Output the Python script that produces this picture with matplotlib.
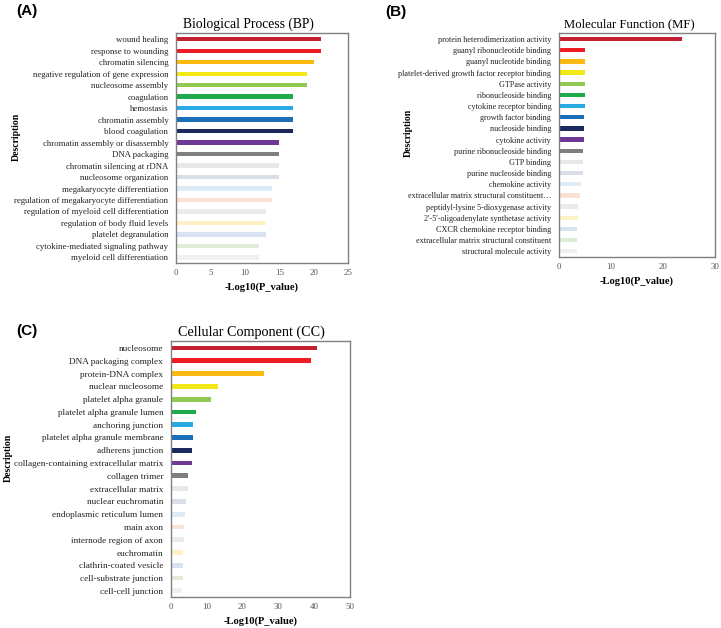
import matplotlib

matplotlib.use("Agg")
import matplotlib.pyplot as plt

plt.rcParams["font.family"] = "serif"
plt.rcParams["font.serif"] = ["Liberation Serif", "DejaVu Serif"]

BP_TERMS = [
    "wound healing",
    "response to wounding",
    "chromatin silencing",
    "negative regulation of gene expression",
    "nucleosome assembly",
    "coagulation",
    "hemostasis",
    "chromatin assembly",
    "blood coagulation",
    "chromatin assembly or disassembly",
    "DNA packaging",
    "chromatin silencing at rDNA",
    "nucleosome organization",
    "megakaryocyte differentiation",
    "regulation of megakaryocyte differentiation",
    "regulation of myeloid cell differentiation",
    "regulation of body fluid levels",
    "platelet degranulation",
    "cytokine-mediated signaling pathway",
    "myeloid cell differentiation",
]
BP_VALUES = [21, 21, 20, 19, 19, 17, 17, 17, 17, 15, 15, 15, 15, 14, 14, 13, 13, 13, 12, 12]

MF_TERMS = [
    "protein heterodimerization activity",
    "guanyl ribonucleotide binding",
    "guanyl nucleotide binding",
    "platelet-derived growth factor receptor binding",
    "GTPase activity",
    "ribonucleoside binding",
    "cytokine receptor binding",
    "growth factor binding",
    "nucleoside binding",
    "cytokine activity",
    "purine ribonucleoside binding",
    "GTP binding",
    "purine nucleoside binding",
    "chemokine activity",
    "extracellular matrix structural constituent…",
    "peptidyl-lysine 5-dioxygenase activity",
    "2'-5'-oligoadenylate synthetase activity",
    "CXCR chemokine receptor binding",
    "extracellular matrix structural constituent",
    "structural molecule activity",
]
MF_VALUES = [23.6, 5.05, 5.05, 5.05, 5.05, 5.0, 5.0, 4.85, 4.8, 4.8,
             4.65, 4.65, 4.55, 4.3, 4.0, 3.7, 3.7, 3.5, 3.5, 3.4]

CC_TERMS = [
    "nucleosome",
    "DNA packaging complex",
    "protein-DNA complex",
    "nuclear nucleosome",
    "platelet alpha granule",
    "platelet alpha granule lumen",
    "anchoring junction",
    "platelet alpha granule membrane",
    "adherens junction",
    "collagen-containing extracellular matrix",
    "collagen trimer",
    "extracellular matrix",
    "nuclear euchromatin",
    "endoplasmic reticulum lumen",
    "main axon",
    "internode region of axon",
    "euchromatin",
    "clathrin-coated vesicle",
    "cell-substrate junction",
    "cell-cell junction",
]
CC_VALUES = [41.0, 39.1, 26.0, 13.1, 11.1, 7.0, 6.3, 6.1, 5.9, 5.8,
             4.9, 4.7, 4.2, 3.9, 3.8, 3.6, 3.5, 3.3, 3.3, 3.2]

BAR_COLORS = [
    "#C5202F", "#EE1C25", "#FDB913", "#F2E817", "#92C953",
    "#1FAA4B", "#2AAAE2", "#1A6FB8", "#1B2A5E", "#6E3996",
    "#7F7F7F", "#E8E8E8", "#D9DFE9", "#DDEBF7", "#F9E2D3",
    "#EBEBEB", "#FFF1C6", "#D8E2F3", "#E0ECD8", "#F0F0F0",
]

# tag, title, terms, values, ticks, axes rect, tag xy, title x/size, label size, desc xy
PANELS = [
    ("(A)", "Biological Process (BP)", BP_TERMS, BP_VALUES, [0, 5, 10, 15, 20, 25],
     [0.244, 0.581, 0.239, 0.3665], (0.023, 0.993), (0.42, 9.8), 6.3, (0.022, 0.782)),
    ("(B)", "Molecular Function (MF)", MF_TERMS, MF_VALUES, [0, 10, 20, 30],
     [0.775, 0.591, 0.217, 0.3565], (0.534, 0.992), (0.45, 9.2), 5.9, (0.566, 0.788)),
    ("(C)", "Cellular Component (CC)", CC_TERMS, CC_VALUES, [0, 10, 20, 30, 40, 50],
     [0.237, 0.049, 0.248, 0.408], (0.023, 0.484), (0.45, 10.2), 6.7, (0.011, 0.271)),
]

fig = plt.figure(figsize=(7.21, 6.28), dpi=100)

for tag, title, terms, values, ticks, rect, tag_xy, title_fmt, lab_size, desc_xy in PANELS:
    ax = fig.add_axes(rect)
    y = list(range(len(terms)))
    ax.barh(y, values, height=0.38, color=BAR_COLORS, linewidth=0)
    ax.set_ylim(len(terms) - 0.5, -0.55)
    ax.set_xlim(ticks[0], ticks[-1])
    ax.set_xticks(ticks)
    ax.set_yticks(y)
    ax.set_yticklabels(terms, fontsize=lab_size)
    ax.tick_params(axis="x", labelsize=6.4, length=0, pad=4.5, colors="#555555")
    ax.tick_params(axis="y", length=0, pad=5.5, labelcolor="#222222")
    for sp in ax.spines.values():
        sp.set_color("#808080")
        sp.set_linewidth(1.0)
    ax.set_title(title, fontsize=title_fmt[1], x=title_fmt[0], pad=4)
    ax.set_xlabel("-Log10(P_value)", fontsize=7.6, fontweight="bold", labelpad=3.5)
    fig.text(tag_xy[0], tag_xy[1], tag, fontsize=11, fontweight="bold",
             family="Liberation Sans", ha="left", va="top")
    fig.text(desc_xy[0], desc_xy[1], "Description", rotation=90, fontsize=7,
             fontweight="bold", ha="center", va="center")

fig.savefig("out.png", dpi=100)
